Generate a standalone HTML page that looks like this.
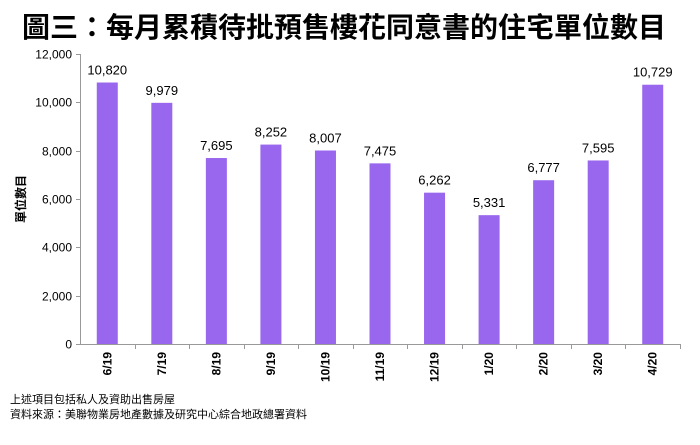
<!DOCTYPE html>
<html><head><meta charset="utf-8"><style>
body{margin:0;background:#fff;width:700px;height:440px;overflow:hidden;font-family:"Liberation Sans","Noto Sans CJK TC",sans-serif}
</style></head><body>
<svg width="700" height="440" xmlns="http://www.w3.org/2000/svg" font-family="Liberation Sans, Noto Sans CJK TC, sans-serif">
<text x="344" y="37" text-anchor="middle" font-size="28" font-weight="bold" fill="#000">圖三：每月累積待批預售樓花同意書的住宅單位數目</text>
<g stroke="#999" stroke-width="1">
<line x1="80.5" y1="54" x2="80.5" y2="344"/>
<line x1="80" y1="344.5" x2="680" y2="344.5"/>
</g>
<text x="25" y="199" font-size="12" font-weight="bold" text-anchor="middle" transform="rotate(-90 25 199)">單位數目</text>
<text x="10" y="403" font-size="11">上述項目包括私人及資助出售房屋</text>
<text x="10" y="418" font-size="11">資料來源：美聯物業房地產數據及研究中心綜合地政總署資料</text>
<script>
var ns="http://www.w3.org/2000/svg",svg=document.querySelector('svg');
function el(t,a,txt){var e=document.createElementNS(ns,t);for(var k in a)e.setAttribute(k,a[k]);if(txt)e.textContent=txt;svg.appendChild(e);return e;}
function y(v){return 344-v*290/12000;}
for(var v=0;v<=12000;v+=2000){var yy=Math.round(y(v))+0.5;
el('line',{x1:76,y1:yy,x2:80,y2:yy,stroke:'#999'});
el('text',{x:72,y:yy+4,'font-size':12,'text-anchor':'end'},v.toLocaleString('en-US'));}
var d=[["6/19",10820],["7/19",9979],["8/19",7695],["9/19",8252],["10/19",8007],["11/19",7475],["12/19",6262],["1/20",5331],["2/20",6777],["3/20",7595],["4/20",10729]];
var w=600/11;
for(var i=0;i<11;i++){var c=80+w*(i+0.5);var t=y(d[i][1]);
el('rect',{x:c-10.5,y:t,width:21,height:344-t,fill:'#9966ee'});
el('text',{x:c,y:t-8,'font-size':13,'text-anchor':'middle'},d[i][1].toLocaleString('en-US'));
var tx=Math.round(80+w*(i+1))+0.5;el('line',{x1:tx,y1:344,x2:tx,y2:349,stroke:'#999'});
el('text',{x:c+4,y:352,'font-size':12,'font-weight':'bold','text-anchor':'end',transform:'rotate(-90 '+(c+4)+' 352)'},d[i][0]);}
</script>
</svg>
</body></html>
